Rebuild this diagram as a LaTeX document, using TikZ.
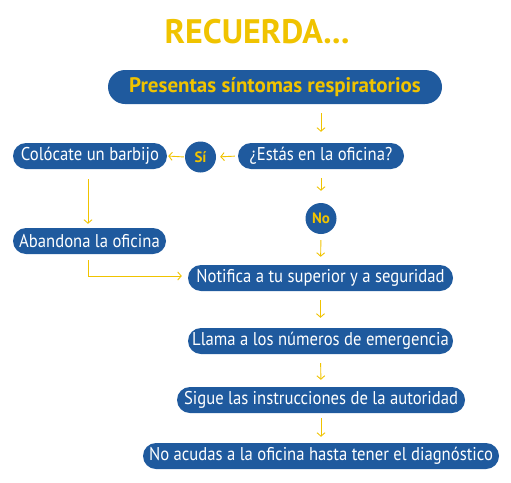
\documentclass[tikz,border=0pt]{standalone}
\usepackage{fontspec}
\setmainfont{PT Sans}
\newfontfamily\condfont{PT Sans}[FakeStretch=0.9]
\usetikzlibrary{arrows.meta}
\definecolor{boxblue}{HTML}{1F5A9E}
\definecolor{gold}{HTML}{F0C300}
\begin{document}
\begin{tikzpicture}[x=1pt,y=-1pt,
  box/.style={fill=boxblue,text=white,minimum height=26pt,rounded corners=13pt,inner sep=0pt,font=\condfont\fontsize{18.5}{20}\selectfont},
  circ/.style={circle,fill=boxblue,text=gold,minimum size=31pt,inner sep=0pt,font=\bfseries\fontsize{15}{17}\selectfont},
  arr/.style={draw=gold,line width=0.9pt,-{Straight Barb[length=3.5pt,width=8pt]}}]
\useasboundingbox (0,0) rectangle (511,482);
\node[text=gold,font=\bfseries\fontsize{34}{38}\selectfont] (title) at (257,32) {RECUERDA...};
\node[box,minimum width=334pt,minimum height=34pt,rounded corners=17pt,text=gold,font=\bfseries\fontsize{21}{24}\selectfont] (top) at (275,87) {Presentas síntomas respiratorios};
\node[box,minimum width=166pt] (estas) at (321,156) {¿Estás en la oficina?};
\node[circ] (si) at (200.5,157) {Sí};
\node[box,minimum width=154pt] (colo) at (90,156) {Colócate un barbijo};
\node[circ] (no) at (321,218.5) {No};
\node[box,minimum width=153pt] (aban) at (89.5,241) {Abandona la oficina};
\node[box,minimum width=265pt] (noti) at (320.5,278) {Notifica a tu superior y a seguridad};
\node[box,minimum width=265pt] (llama) at (320.5,341) {Llama a los números de emergencia};
\node[box,minimum width=288pt] (sigue) at (321,400) {Sigue las instrucciones de la autoridad};
\node[box,minimum width=356pt] (noac) at (321,456) {No acudas a la oficina hasta tener el diagnóstico};
\coordinate (abanout) at (88,254);
\draw[arr,shorten <=9pt,shorten >=11pt] (top.south -| estas) -- (estas.north);
\draw[arr,shorten <=9pt,shorten >=12pt] (estas.south) -- (no.north);
\draw[arr,shorten <=6pt,shorten >=8pt] (no.south) -- (noti.north);
\draw[arr,shorten <=9pt,shorten >=10pt] (noti.south) -- (llama.north);
\draw[arr,shorten <=9pt,shorten >=7pt] (llama.south) -- (sigue.north);
\draw[arr,shorten <=5pt,shorten >=6pt] (sigue.south) -- (noac.north);
\draw[arr,shorten <=3pt,shorten >=4pt] (estas.west) -- (si.east);
\draw[arr,shorten <=1pt,shorten >=1pt] (si.west) -- (colo.east);
\draw[arr,shorten <=10pt,shorten >=4pt] (colo.south -| abanout) -- (aban.north -| abanout);
\draw[arr,shorten <=6pt,shorten >=6pt] (abanout) |- ([yshift=2pt]noti.west);
\end{tikzpicture}
\end{document}
